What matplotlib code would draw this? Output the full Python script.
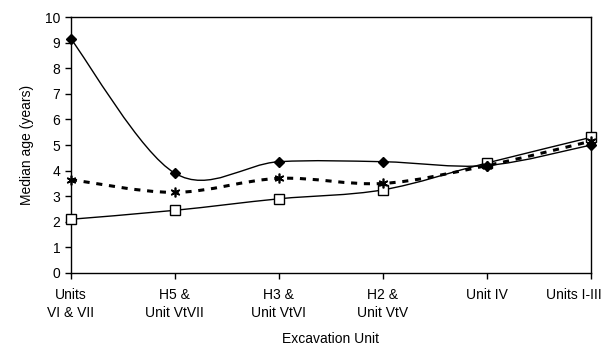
import matplotlib
matplotlib.use("Agg")
import matplotlib.pyplot as plt
from matplotlib.path import Path
from matplotlib.patches import PathPatch
import matplotlib.transforms as mtransforms
import numpy as np

plt.rcParams['font.family'] = ['Liberation Sans', 'DejaVu Sans']

units = ["Units\nVI & VII", "H5 &\nUnit VtVII", "H3 &\nUnit VtVI",
         "H2 &\nUnit VtV", "Unit IV", "Units I-III"]
diamond_vals = [9.15, 3.9, 4.35, 4.35, 4.2, 5.0]
star_vals = [3.65, 3.15, 3.7, 3.5, 4.2, 5.15]
square_vals = [2.1, 2.45, 2.9, 3.25, 4.3, 5.3]


def smooth_path(xs, ys):
    # Excel-style smoothed line: cubic bezier segments (catmull-rom control points)
    pts = np.column_stack([xs, ys]).astype(float)
    n = len(pts)
    verts = [pts[0]]
    codes = [Path.MOVETO]
    for i in range(n - 1):
        p0 = pts[i - 1] if i > 0 else pts[i]
        p1 = pts[i]
        p2 = pts[i + 1]
        p3 = pts[i + 2] if i + 2 < n else pts[i + 1]
        c1 = p1 + (p2 - p0) / 6.0
        c2 = p2 - (p3 - p1) / 6.0
        verts += [c1, c2, p2]
        codes += [Path.CURVE4] * 3
    return Path(verts, codes)


fig = plt.figure(figsize=(6.06, 3.5), dpi=100)
ax = fig.add_axes([0.117, 0.22, 0.858, 0.731])

x = np.arange(len(units))

ax.add_patch(PathPatch(smooth_path(x, square_vals), fill=False, lw=1.0, ec='black'))
ax.add_patch(PathPatch(smooth_path(x, star_vals), fill=False, lw=2.2, ec='black',
                       linestyle=(0, (2, 2.2))))
ax.add_patch(PathPatch(smooth_path(x, diamond_vals), fill=False, lw=1.0, ec='black'))

ax.plot(x, square_vals, ls='none', marker='s', ms=6.5, mfc='white', mec='black',
        mew=1.0, clip_on=False, zorder=5)
ax.plot(x, star_vals, ls='none', marker=(6, 2, 0), ms=7, mec='black', mew=1.2,
        clip_on=False, zorder=5)
ax.plot(x, diamond_vals, ls='none', marker='D', ms=5.5, mfc='black', mec='black',
        clip_on=False, zorder=6)

ax.set_xlim(0, len(units) - 1)
ax.set_ylim(0, 10)
ax.set_yticks(range(0, 11))
ax.set_xticks(x)
ax.set_xticklabels(units, fontsize=10, linespacing=1.3)
ax.tick_params(axis='y', labelsize=10, length=4, width=1, direction='out')
ax.tick_params(axis='x', length=4, width=1, direction='out', pad=7)
for s in ax.spines.values():
    s.set_linewidth(1.0)

# last label would run off the right edge: nudge it left
last = ax.get_xticklabels()[-1]
last.set_transform(last.get_transform() +
                   mtransforms.ScaledTranslation(-12 / 72, 0, fig.dpi_scale_trans))

ax.set_ylabel("Median age (years)", fontsize=10, labelpad=8)
ax.set_xlabel("Excavation Unit", fontsize=10, labelpad=9)

fig.savefig("out.png", dpi=100)
